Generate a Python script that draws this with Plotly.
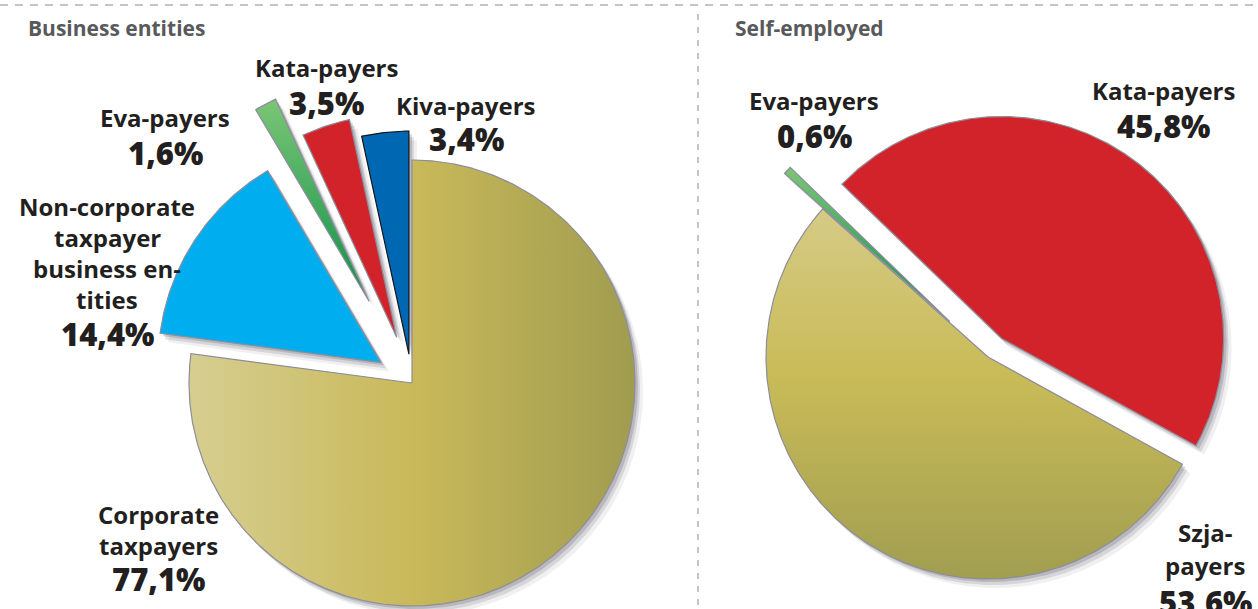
import numpy as np
import plotly.graph_objects as go

# Business entities, share of taxpayers (%)
biz_names = ['Corporate<br>taxpayers', 'Non-corporate<br>taxpayer<br>business en-<br>tities',
             'Eva-payers', 'Kata-payers', 'Kiva-payers']
biz_share = [77.1, 14.4, 1.6, 3.5, 3.4]

# Self-employed, share of taxpayers (%)
self_names = ['Kata-payers', 'Szja-<br>payers', 'Eva-payers']
self_share = [45.8, 53.6, 0.6]

titles = ['Business entities', 'Self-employed']


def pct(v):
    return f'{v:.1f}%'.replace('.', ',')


W, H = 1258, 609
FONT = 'Open Sans, Noto Sans, sans-serif'
INK = '#231f20'

gold_h = dict(type='horizontal', colorscale=[[0, '#d6ce90'], [0.5, '#c9b95a'], [1, '#a09c4f']])
gold_v = dict(type='vertical', colorscale=[[0, '#a19e50'], [0.55, '#c9bb58'], [1, '#d5cb85']])
green = dict(type='vertical', colorscale=[[0, '#0a9148'], [1, '#7cc576']])

fig = go.Figure()


def wedge(cx, cy, r, a0, a1, pull):
    # angles clockwise from 12 o'clock, y axis points down
    mid = np.radians((a0 + a1) / 2)
    ox, oy = cx + pull * np.sin(mid), cy - pull * np.cos(mid)
    t = np.radians(np.linspace(a0, a1, max(int(a1 - a0) * 2, 6)))
    xs = np.r_[ox, ox + r * np.sin(t), ox]
    ys = np.r_[oy, oy - r * np.cos(t), oy]
    return xs, ys


def add_pie(shares, names, start, cx, cy, r, pulls, fills, edges):
    cum = start + 360 * np.cumsum([0] + shares) / sum(shares)
    polys = [wedge(cx, cy, r, cum[i], cum[i + 1], pulls[i]) for i in range(len(shares))]
    # soft drop shadow
    for xs, ys in polys:
        for dx, dy, a in [(8, 9, 0.08), (5, 6, 0.14), (3, 3, 0.2)]:
            fig.add_trace(go.Scatter(x=xs + dx, y=ys + dy, fill='toself', mode='lines',
                                     fillcolor=f'rgba(60,60,75,{a})', line=dict(width=0),
                                     hoverinfo='skip', showlegend=False))
    for i, (xs, ys) in enumerate(polys):
        f = fills[i]
        kw = dict(fillgradient=f) if isinstance(f, dict) else dict(fillcolor=f)
        fig.add_trace(go.Scatter(x=xs, y=ys, fill='toself', mode='lines',
                                 line=dict(color=edges[i], width=1.2),
                                 name=names[i].replace('<br>', ' ') + ' ' + pct(shares[i]),
                                 hoverinfo='name', showlegend=False, **kw))


add_pie(biz_share, biz_names, 0, 412, 383, 223,
        [0, 37, 92, 48, 29],
        [gold_h, '#00aeef', green, '#d2232a', '#0068b3'],
        ['#8d8d9a', '#8d8d9a', '#8d8d9a', '#8d8d9a', '#15151a'])

add_pie(self_share, self_names, 314, 988, 357, 222,
        [23, 0, 52],
        ['#d2232a', gold_v, green],
        ['#8d8d9a', '#8d8d9a', '#8d8d9a'])

annotations = []


def text(x, y, s, size, weight=700, color=INK, xanchor='center'):
    annotations.append(dict(x=x, y=y, xref='x', yref='y', text=s, showarrow=False,
                            xanchor=xanchor, yanchor='middle', borderpad=0,
                            font=dict(family=FONT, size=size, color=color, weight=weight)))


def label(name, value, x, y, step=32, dy_pct=36):
    lines = name.split('<br>')
    for k, ln in enumerate(lines):
        text(x, y + k * step, ln, 24)
    text(x, y + (len(lines) - 1) * step + dy_pct, pct(value), 31, 800)


# titles
text(27, 28, titles[0], 21, 700, '#58595b', 'left')
text(734, 28, titles[1], 21, 700, '#58595b', 'left')

# left pie labels
label(biz_names[0], biz_share[0], 158, 514, 31, 34)
label(biz_names[1], biz_share[1], 107, 206, 31, 35)
label(biz_names[2], biz_share[2], 165, 117)
label(biz_names[3], biz_share[3], 326, 67)
label(biz_names[4], biz_share[4], 466, 105, 32, 34)

# right pie labels
label(self_names[0], self_share[0], 1163, 90)
label(self_names[1], self_share[1], 1205, 532, 33, 37)
label(self_names[2], self_share[2], 814, 100)

shapes = [
    dict(type='line', xref='x', yref='y', x0=0, x1=W, y0=5, y1=5,
         line=dict(color='#c4c4c4', width=2, dash='8px,7px')),
    dict(type='line', xref='x', yref='y', x0=698, x1=698, y0=14, y1=H,
         line=dict(color='#c4c4c4', width=2, dash='6px,7px')),
]

fig.update_layout(
    width=W, height=H,
    margin=dict(l=0, r=0, t=0, b=0),
    paper_bgcolor='white', plot_bgcolor='white',
    xaxis=dict(range=[0, W], visible=False, fixedrange=True),
    yaxis=dict(range=[H, 0], visible=False, fixedrange=True),
    annotations=annotations,
    shapes=shapes,
    showlegend=False,
)

# drop the browser's default 8px body margin so the figure sits at the page corner
fig.write_html('out.html', config={'displayModeBar': False},
               post_script="document.body.style.margin='0px';")
